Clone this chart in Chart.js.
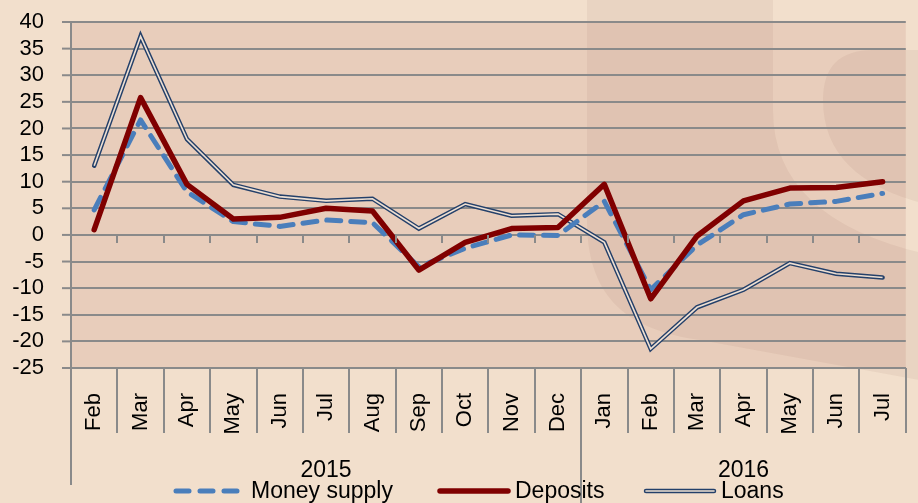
<!DOCTYPE html>
<html>
<head>
<meta charset="utf-8">
<script src="https://cdn.jsdelivr.net/npm/chart.js@4.4.0/dist/chart.umd.min.js"></script>
<style>
  html, body { margin: 0; padding: 0; overflow: hidden; background: #f2dfcc; }
  #wrap { width: 926px; height: 503px; position: relative; }
</style>
</head>
<body>
<div id="wrap"><canvas id="myChart"></canvas></div>
<script>
const months = ['Feb', 'Mar', 'Apr', 'May', 'Jun', 'Jul', 'Aug', 'Sep', 'Oct', 'Nov', 'Dec',
                'Jan', 'Feb', 'Mar', 'Apr', 'May', 'Jun', 'Jul'];
const years = ['2015', '2016'];
const monthsPerYear = [11, 7];

const moneySupply = [4.7, 21.6, 8.1, 2.5, 1.6, 2.8, 2.3, -6.0, -2.5, 0.0, -0.1,
                     6.3, -10.3, -1.9, 3.8, 5.8, 6.3, 7.8];
const deposits = [1.0, 25.8, 9.5, 3.0, 3.3, 5.0, 4.5, -6.6, -1.4, 1.2, 1.4,
                  9.5, -12.0, -0.2, 6.4, 8.8, 8.9, 10.0];
const loans = [13.0, 37.3, 18.0, 9.4, 7.2, 6.4, 6.8, 1.2, 5.8, 3.6, 3.9,
               -1.4, -21.4, -13.6, -10.3, -5.3, -7.3, -8.0];

const yMin = -25;
const yMax = 40;
const yStep = 5;

const gridColor = '#8a8a8a';
const blue = '#4a7ebb';
const red = '#800000';
const navy = '#24406a';
const fontFamily = '"Liberation Sans", Arial, sans-serif';

Chart.defaults.font.family = fontFamily;

// fondo y marca de agua
const fondo = {
  id: 'fondo',
  beforeDraw(chart) {
    const { ctx, chartArea: a, width, height } = chart;
    ctx.save();
    ctx.fillStyle = '#f2dfcc';
    ctx.fillRect(0, 0, width, height);
    ctx.fillStyle = '#e8cdbb';
    ctx.fillRect(a.left, a.top, a.right - a.left, a.bottom - a.top);

    const p = new Path2D();
    p.moveTo(587, 0);
    p.lineTo(587, 220);
    p.bezierCurveTo(587, 300, 630, 330, 700, 340);
    p.lineTo(930, 382);
    p.lineTo(930, 0);
    p.closePath();
    // franja clara
    p.moveTo(773, 0);
    p.lineTo(930, 0);
    p.lineTo(930, 50);
    p.lineTo(873, 50);
    p.quadraticCurveTo(823, 50, 823, 100);
    p.quadraticCurveTo(823, 180, 930, 205);
    p.lineTo(930, 255);
    p.quadraticCurveTo(773, 220, 773, 110);
    p.closePath();
    ctx.fillStyle = 'rgba(110, 50, 40, 0.06)';
    ctx.fill(p, 'evenodd');
    ctx.restore();
  }
};

const ejes = {
  id: 'ejes',
  afterDraw(chart) {
    const { ctx, chartArea: a, scales: { x, y } } = chart;
    const y0 = y.getPixelForValue(0);
    ctx.save();
    ctx.strokeStyle = gridColor;

    // marcas del eje y
    ctx.lineWidth = 2;
    y.ticks.forEach(t => {
      const py = y.getPixelForValue(t.value);
      ctx.beginPath();
      ctx.moveTo(a.left - 9, py);
      ctx.lineTo(a.left, py);
      ctx.stroke();
    });

    for (let i = 0; i <= months.length; i++) {
      const px = Math.round(x.getPixelForValue(i - 0.5));
      let end = 433;
      if (i === 0) end = 485;
      if (i === monthsPerYear[0]) end = 503;
      ctx.beginPath();
      ctx.moveTo(px, a.bottom);
      ctx.lineTo(px, end);
      ctx.stroke();
      if (i > 0 && i < months.length) {
        ctx.beginPath();
        ctx.moveTo(px, y0);
        ctx.lineTo(px, y0 + 8);
        ctx.stroke();
      }
    }

    ctx.fillStyle = '#000';
    ctx.font = '23px ' + fontFamily;
    ctx.textAlign = 'center';
    ctx.textBaseline = 'alphabetic';
    let start = 0;
    years.forEach((yr, k) => {
      const left = x.getPixelForValue(start - 0.5);
      const right = x.getPixelForValue(start + monthsPerYear[k] - 0.5);
      ctx.fillText(yr, (left + right) / 2, 477);
      start += monthsPerYear[k];
    });

    // leyenda
    const ly = 491;
    ctx.lineCap = 'round';
    ctx.setLineDash([13, 11]);
    ctx.strokeStyle = blue;
    ctx.lineWidth = 5;
    ctx.beginPath();
    ctx.moveTo(176, ly);
    ctx.lineTo(238, ly);
    ctx.stroke();
    ctx.setLineDash([]);

    ctx.strokeStyle = red;
    ctx.lineWidth = 5.5;
    ctx.beginPath();
    ctx.moveTo(440, ly);
    ctx.lineTo(508, ly);
    ctx.stroke();

    ctx.strokeStyle = navy;
    ctx.lineWidth = 4.5;
    ctx.beginPath();
    ctx.moveTo(646, ly);
    ctx.lineTo(714, ly);
    ctx.stroke();
    ctx.strokeStyle = '#f0e2d4';
    ctx.lineWidth = 1.6;
    ctx.beginPath();
    ctx.moveTo(646, ly);
    ctx.lineTo(714, ly);
    ctx.stroke();

    ctx.fillStyle = '#000';
    ctx.textAlign = 'left';
    ctx.fillText('Money supply', 251, 498);
    ctx.fillText('Deposits', 515, 498);
    ctx.fillText('Loans', 721, 498);
    ctx.restore();
  }
};

const ctx = document.getElementById('myChart');

new Chart(ctx, {
  type: 'line',
  data: {
    labels: months,
    datasets: [
      {
        label: 'Deposits',
        data: deposits,
        borderColor: red,
        borderWidth: 5.5,
        borderJoinStyle: 'round',
        borderCapStyle: 'round',
        pointRadius: 0,
        order: 0
      },
      {
        label: 'Money supply',
        data: moneySupply,
        borderColor: blue,
        borderWidth: 5,
        borderDash: [14, 10],
        borderCapStyle: 'round',
        borderJoinStyle: 'round',
        pointRadius: 0,
        order: 1
      },
      {
        label: 'Loans',
        data: loans,
        borderColor: '#eedfd2',
        borderWidth: 1.6,
        pointRadius: 0,
        order: 2
      },
      {
        label: 'Loans',
        data: loans,
        borderColor: navy,
        borderWidth: 4.5,
        borderCapStyle: 'round',
        pointRadius: 0,
        order: 3
      }
    ]
  },
  options: {
    responsive: true,
    maintainAspectRatio: false,
    animation: false,
    events: [],
    layout: { padding: { top: 22, right: 0, left: 0, bottom: 0 } },
    plugins: {
      legend: { display: false },
      tooltip: { enabled: false }
    },
    scales: {
      x: {
        offset: true,
        grid: { display: false },
        border: { display: true, color: gridColor, width: 2 },
        ticks: {
          minRotation: 90,
          maxRotation: 90,
          autoSkip: false,
          padding: 17,
          color: '#000',
          font: { size: 22 }
        },
        afterFit(scale) { scale.height = 135; }
      },
      y: {
        min: yMin,
        max: yMax,
        grid: { color: gridColor, lineWidth: 2, tickLength: 27, tickColor: 'rgba(0,0,0,0)' },
        border: { display: true, color: gridColor, width: 2 },
        ticks: {
          stepSize: yStep,
          autoSkip: false,
          padding: 0,
          color: '#000',
          font: { size: 22 }
        },
        afterFit(scale) { scale.width = 71; }
      }
    }
  },
  plugins: [fondo, ejes]
});
</script>
</body>
</html>
